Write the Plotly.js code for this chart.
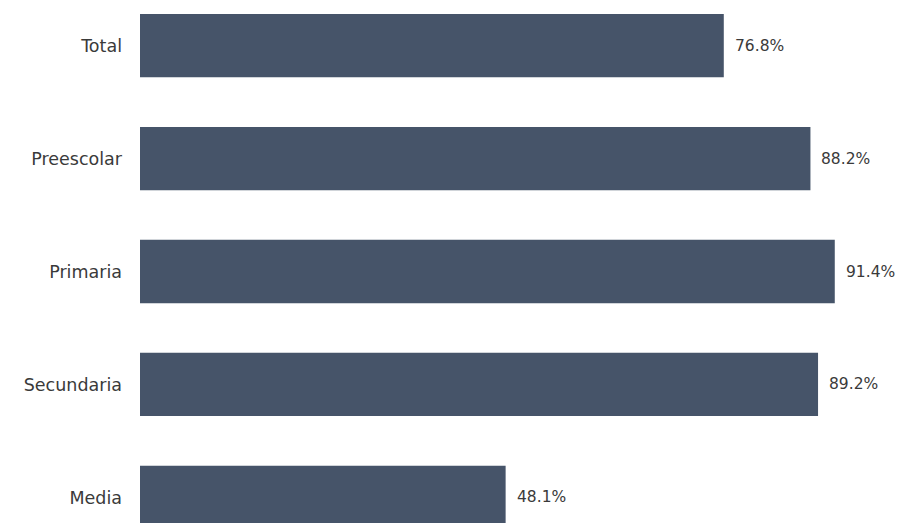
<!DOCTYPE html>
<html>
<head>
<meta charset="utf-8">
<script src="https://cdn.plot.ly/plotly-3.0.1.min.js"></script>
<style>html,body{margin:0;padding:0;background:#fff;}#chart{width:899px;height:523px;}</style>
</head>
<body>
<div id="chart"></div>
<script>
const categories = ["Total", "Preescolar", "Primaria", "Secundaria", "Media"];
const values = [76.8, 88.2, 91.4, 89.2, 48.1];

const barColor = "#465469";
const textColor = "#3a3a3a";
const fontFamily = "'DejaVu Sans', sans-serif";

const trace = {
  type: "bar",
  orientation: "h",
  x: values,
  y: categories,
  marker: {color: barColor},
  hoverinfo: "none"
};

const annotations = categories.map((c, i) => ({
  x: values[i],
  y: c,
  xref: "x",
  yref: "y",
  text: values[i].toFixed(1) + "%",
  showarrow: false,
  xanchor: "left",
  xshift: 9,
  font: {family: fontFamily, size: 15.5, color: textColor}
}));

const layout = {
  width: 899,
  height: 523,
  margin: {l: 140, r: 0, t: 0, b: 0},
  paper_bgcolor: "#ffffff",
  plot_bgcolor: "#ffffff",
  bargap: 0.44,
  showlegend: false,
  xaxis: {
    range: [0, 99.85],
    visible: false,
    fixedrange: true
  },
  yaxis: {
    type: "category",
    categoryorder: "array",
    categoryarray: categories,
    range: [4.226, -0.403],
    showgrid: false,
    zeroline: false,
    showline: false,
    ticks: "",
    ticklabelstandoff: 17,
    tickfont: {family: fontFamily, size: 17.5, color: textColor}
  },
  annotations: annotations
};

Plotly.newPlot("chart", [trace], layout, {displayModeBar: false, staticPlot: true});
</script>
</body>
</html>
